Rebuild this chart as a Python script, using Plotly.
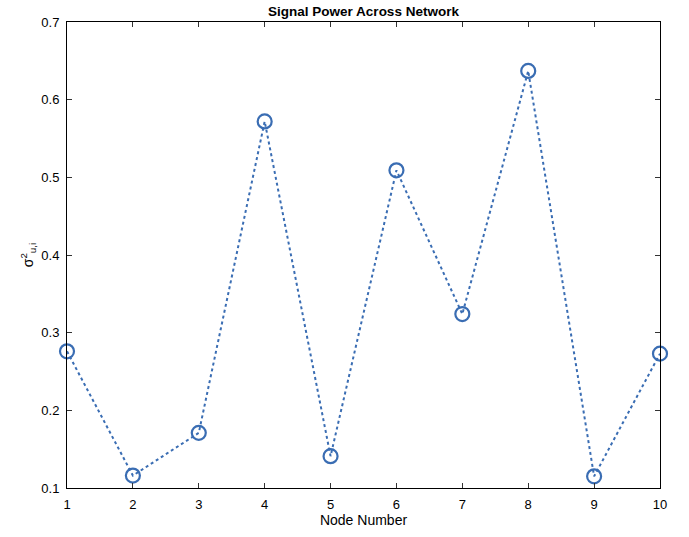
import plotly.graph_objects as go

nodes = [1, 2, 3, 4, 5, 6, 7, 8, 9, 10]
power = [0.276, 0.116, 0.171, 0.572, 0.141, 0.509, 0.324, 0.637, 0.115, 0.273]
x_ticks = [1, 2, 3, 4, 5, 6, 7, 8, 9, 10]
y_ticks = [0.1, 0.2, 0.3, 0.4, 0.5, 0.6, 0.7]

color = "#3a6db3"
FONT = "Liberation Sans, Arial, sans-serif"
fig = go.Figure()
fig.add_trace(go.Scatter(
    x=nodes, y=power, mode="lines+markers", cliponaxis=False,
    line=dict(color=color, width=2, dash="dot"),
    marker=dict(symbol="circle-open", size=14, color=color, line=dict(width=2.2, color=color)),
    showlegend=False,
))

axis_common = dict(
    showgrid=False, zeroline=False, showline=True, linecolor="black", linewidth=1,
    mirror="allticks", ticks="inside", ticklen=5, tickcolor="#333", tickwidth=1,
    ticklabelstandoff=4,
    tickfont=dict(family=FONT, size=13, color="black"),
)
fig.update_layout(
    width=689, height=537,
    margin=dict(l=67, r=29, t=22, b=49),
    paper_bgcolor="white", plot_bgcolor="white",
    title=dict(text="<b>Signal Power Across Network</b>", x=0.5, xref="paper", xanchor="center",
               y=1 - 11/537, yanchor="middle",
               font=dict(family=FONT, size=13.5, color="black")),
    xaxis=dict(range=[1, 10], tickvals=x_ticks,
               title=dict(text="Node Number", standoff=4,
                          font=dict(family=FONT, size=14, color="black")),
               **axis_common),
    yaxis=dict(range=[0.1, 0.7], tickvals=y_ticks, ticktext=[f"{v:.1f}" for v in y_ticks],
               title=dict(text="σ<sup>2</sup><sub>u,i</sub>", standoff=4,
                          font=dict(family=FONT, size=14, color="black")),
               **axis_common),
)
fig.write_html("out.html")
